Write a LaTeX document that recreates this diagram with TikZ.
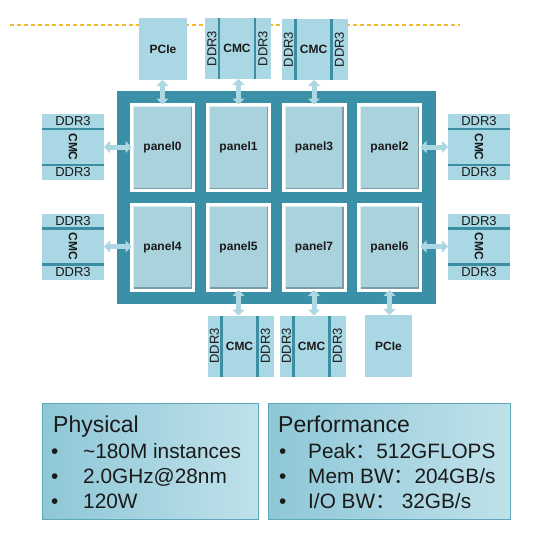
\documentclass[tikz,border=0pt]{standalone}
\usepackage{fontspec}
\setmainfont{Liberation Sans}
\newfontfamily\cjk{Noto Sans CJK SC}
\usetikzlibrary{arrows.meta}
\definecolor{tealc}{HTML}{3A90A6}
\definecolor{boxfill}{HTML}{A9D7E3}
\definecolor{panelfill}{HTML}{A9D2DD}
\definecolor{divc}{HTML}{3C8FA3}
\definecolor{arrowc}{HTML}{ADD7E2}
\definecolor{dashc}{RGB}{242,185,50}
\definecolor{bevelc}{HTML}{7B9CA5}
\definecolor{infoL}{HTML}{8EC7D7}
\definecolor{infoR}{HTML}{BFE1EA}
\definecolor{infoB}{HTML}{5FA8BA}
\definecolor{txt}{HTML}{1A1A1A}
\tikzset{
  panelbox/.style={draw=white, line width=3pt, outer sep=0pt, fill=panelfill,
    minimum width=62pt, minimum height=86pt, inner sep=0pt,
    font=\bfseries\fontsize{12}{12}\selectfont, text=txt,
    path picture={
      \draw[bevelc, line width=6pt]
        (path picture bounding box.south west) -- (path picture bounding box.south east)
        -- (path picture bounding box.north east);
      \draw[white!60!panelfill, line width=5pt]
        (path picture bounding box.south west) -- (path picture bounding box.north west)
        -- (path picture bounding box.north east);
    }},
  cbox/.style={fill=boxfill, draw=none, inner sep=0pt, outer sep=0pt},
  divline/.style={draw=divc, line width=2.5pt},
  ddrtxt/.style={font=\fontsize{13}{13}\selectfont, text=txt, inner sep=0pt},
  cmctxt/.style={font=\bfseries\fontsize{12}{12}\selectfont, text=txt, inner sep=0pt},
  biarr/.style={draw=arrowc, line width=5pt,
    {Triangle[width=12pt,length=6pt]}-{Triangle[width=12pt,length=6pt]}, shorten <=0pt, shorten >=0pt},
  infobox/.style={left color=infoL, right color=infoR, draw=infoB, line width=1pt,
    inner sep=0pt, outer sep=0pt},
  titletxt/.style={anchor=base west, inner sep=0pt, font=\fontsize{23}{23}\selectfont, text=txt},
  itemtxt/.style={anchor=base west, inner sep=0pt, font=\fontsize{20.8}{20.8}\selectfont, text=txt},
  guideline/.style={color=dashc, line width=1.2pt, dash pattern=on 4pt off 3pt},
}
\newcommand\sidecmc[2]{%
  \node[cbox, minimum width=62pt, minimum height=66pt] (#1) at (#2) {};
  \draw[divline] ([yshift=-15pt]#1.north west) -- ([yshift=-15pt]#1.north east);
  \draw[divline] ([yshift=15pt]#1.south west) -- ([yshift=15pt]#1.south east);
  \node[ddrtxt] (#1-a) at ([yshift=-7.5pt]#1.north) {DDR3};
  \node[ddrtxt] (#1-b) at ([yshift=7.5pt]#1.south) {DDR3};
  \node[cmctxt, rotate=-90] (#1-c) at (#1.center) {CMC};
}
\newcommand\vertcmc[2]{%
  \node[cbox, minimum width=66pt, minimum height=61pt] (#1) at (#2) {};
  \draw[divline] ([xshift=14pt]#1.north west) -- ([xshift=14pt]#1.south west);
  \draw[divline] ([xshift=-16pt]#1.north east) -- ([xshift=-16pt]#1.south east);
  \node[ddrtxt, rotate=90] (#1-a) at ([xshift=7pt]#1.west) {DDR3};
  \node[ddrtxt, rotate=90] (#1-b) at ([xshift=-8pt]#1.east) {DDR3};
  \node[cmctxt] (#1-c) at ([xshift=-1pt]#1.center) {CMC};
}
\begin{document}
\begin{tikzpicture}[x=1pt, y=-1pt]
\useasboundingbox (0,0) rectangle (548,533);
\fill[white] (0,0) rectangle (548,533);
% dashed guide line
\coordinate (gl0) at (10,25);
\coordinate (gl1) at (460,25);
\draw[guideline] (gl0) -- (gl1);
% main chip
\node[fill=tealc, minimum width=319pt, minimum height=213pt, inner sep=0pt, outer sep=0pt] (chip) at (276.5,197.5) {};
% panels
\node[panelbox] (p0) at (162.5,147.5) {panel0};
\node[panelbox] (p1) at (238.5,147.5) {panel1};
\node[panelbox] (p3) at (314,147.5) {panel3};
\node[panelbox] (p2) at (389.5,147.5) {panel2};
\node[panelbox] (p4) at (162.5,247) {panel4};
\node[panelbox] (p5) at (238.5,247) {panel5};
\node[panelbox] (p7) at (314,247) {panel7};
\node[panelbox] (p6) at (389.5,247) {panel6};
% top row boxes
\node[cbox, minimum width=48pt, minimum height=62pt, font=\bfseries\fontsize{12}{12}\selectfont, text=txt] (pcT) at (163,49) {PCIe};
\vertcmc{T1}{238,48.5}
\vertcmc{T2}{314.5,49.5}
% bottom row boxes
\vertcmc{B1}{240.5,346}
\vertcmc{B2}{312.5,346}
\node[cbox, minimum width=47pt, minimum height=62pt, font=\bfseries\fontsize{12}{12}\selectfont, text=txt] (pcB) at (388.5,346) {PCIe};
% side boxes
\sidecmc{L0}{73,147}
\sidecmc{L1}{73,246.5}
\sidecmc{R0}{479,147}
\sidecmc{R1}{479,246.5}
% connectors
\draw[biarr] (p0.north |- pcT.south) -- (p0.north);
\draw[biarr] (p1.north |- T1.south) -- (p1.north);
\draw[biarr] (p3.north |- T2.south) -- (p3.north);
\draw[biarr] (p5.south) -- (p5.south |- B1.north);
\draw[biarr] (p7.south) -- (p7.south |- B2.north);
\draw[biarr] (p6.south) -- (p6.south |- pcB.north);
\draw[biarr] (L0.east) -- (L0.east -| p0.west);
\draw[biarr] (L1.east) -- (L1.east -| p4.west);
\draw[biarr] (R0.west -| p2.east) -- (R0.west);
\draw[biarr] (R1.west -| p6.east) -- (R1.west);
% info boxes
\node[infobox, minimum width=216pt, minimum height=116pt] (phys) at (150,461) {};
\node[infobox, minimum width=242pt, minimum height=116pt] (perf) at (389,461) {};
\node[titletxt] (physT) at (53,432) {Physical};
\node[itemtxt] (physB1) at (51,458) {•};
\node[itemtxt] (physI1) at (83,458) {\textasciitilde180M instances};
\node[itemtxt] (physB2) at (51,483) {•};
\node[itemtxt] (physI2) at (83,483) {2.0GHz@28nm};
\node[itemtxt] (physB3) at (51,508) {•};
\node[itemtxt] (physI3) at (83,508) {120W};
\node[titletxt] (perfT) at (278,432) {Performance};
\node[itemtxt] (perfB1) at (279,458) {•};
\node[itemtxt] (perfI1) at (308,458) {Peak{\cjk ：}512GFLOPS};
\node[itemtxt] (perfB2) at (279,483) {•};
\node[itemtxt] (perfI2) at (308,483) {Mem BW{\cjk ：}204GB/s};
\node[itemtxt] (perfB3) at (279,508) {•};
\node[itemtxt] (perfI3) at (308,508) {I/O BW{\cjk ：} 32GB/s};
\end{tikzpicture}
\end{document}
